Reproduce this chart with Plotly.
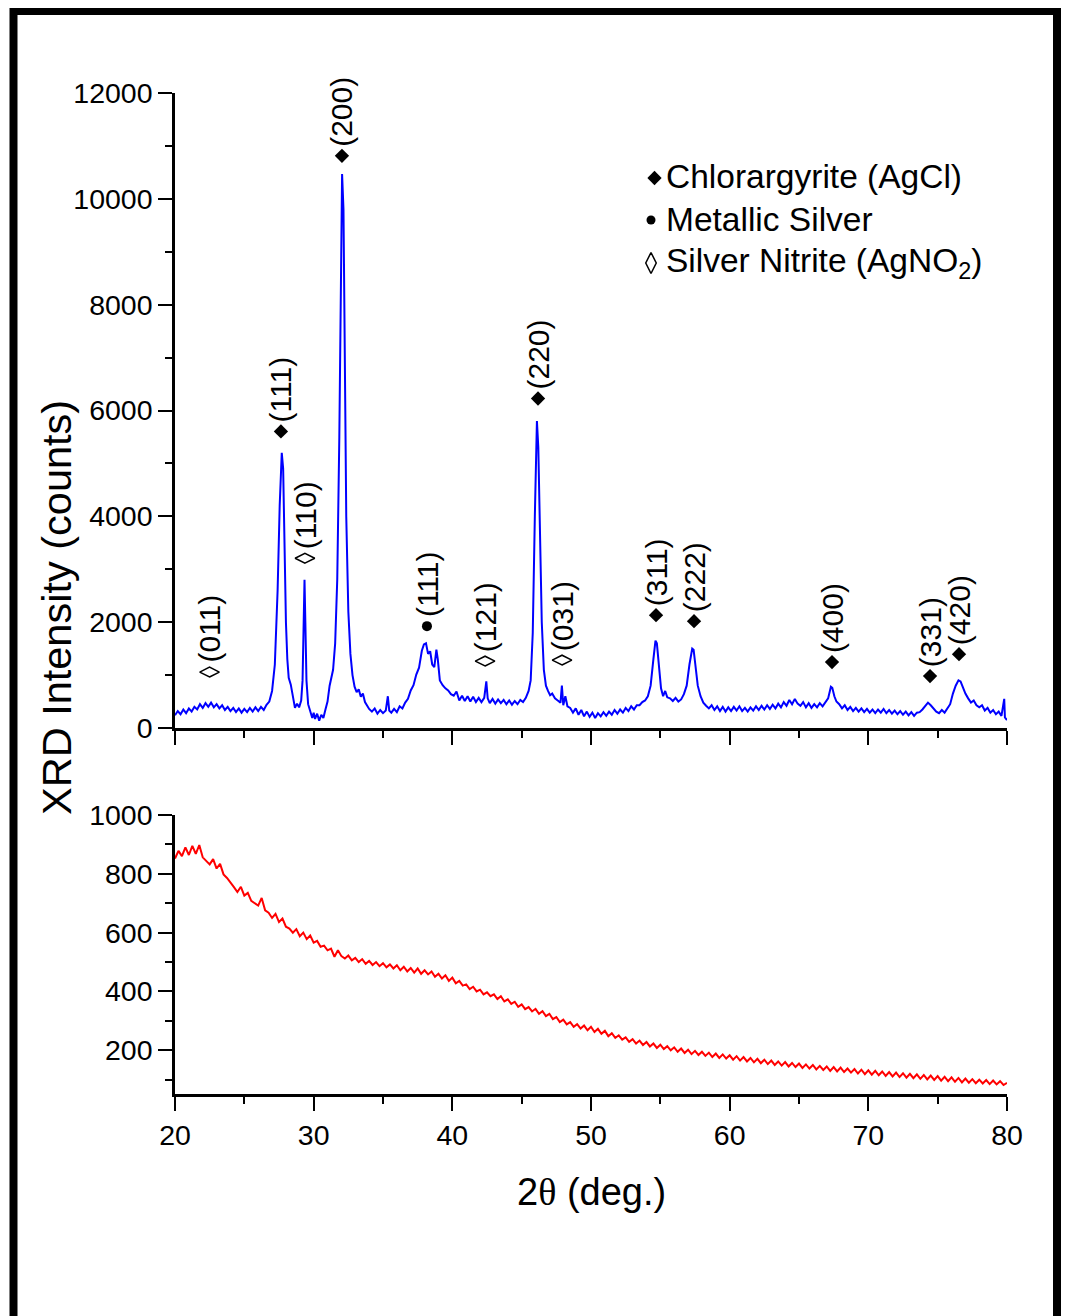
import numpy as np
import plotly.graph_objects as go

# ---------------- data ----------------
# As-prepared sample (blue): (2theta, counts)
blue_pattern = [
    (20.0, 240), (20.2, 320), (20.4, 260), (20.6, 350), (20.8, 280), (21.0, 370), (21.2, 310),
    (21.4, 400), (21.6, 350), (21.8, 450), (22.0, 380), (22.2, 470), (22.4, 400), (22.6, 480),
    (22.8, 390), (23.0, 450), (23.2, 370), (23.4, 430), (23.6, 340), (23.8, 400), (24.0, 320),
    (24.2, 380), (24.4, 300), (24.6, 370), (24.8, 290), (25.0, 360), (25.2, 300), (25.4, 380),
    (25.6, 310), (25.8, 390), (26.0, 320), (26.2, 400), (26.4, 340), (26.6, 440), (26.8, 500),
    (27.0, 700), (27.2, 1200), (27.4, 2600), (27.55, 4200), (27.7, 5200), (27.8, 4900),
    (27.9, 3400), (28.0, 2000), (28.1, 1300), (28.2, 950), (28.35, 820), (28.5, 600),
    (28.65, 380), (28.8, 460), (28.95, 390), (29.1, 520), (29.2, 900), (29.28, 2000),
    (29.34, 2800), (29.4, 2000), (29.48, 900), (29.6, 450), (29.75, 300), (29.9, 190),
    (30.0, 290), (30.1, 170), (30.25, 270), (30.4, 140), (30.55, 250), (30.7, 190),
    (30.85, 350), (31.0, 500), (31.15, 800), (31.25, 950), (31.4, 1100), (31.55, 1600),
    (31.7, 2800), (31.85, 5500), (31.95, 8500), (32.05, 10470), (32.15, 9800), (32.25, 7000),
    (32.35, 4000), (32.5, 2200), (32.65, 1400), (32.8, 1000), (32.95, 780), (33.1, 680),
    (33.25, 730), (33.4, 590), (33.55, 650), (33.7, 490), (33.85, 430), (34.0, 360),
    (34.2, 310), (34.4, 370), (34.6, 270), (34.8, 340), (35.0, 280), (35.2, 330),
    (35.35, 600), (35.45, 330), (35.6, 290), (35.8, 360), (36.0, 300), (36.2, 410),
    (36.4, 370), (36.6, 480), (36.8, 550), (37.0, 710), (37.2, 810), (37.4, 1010),
    (37.6, 1140), (37.8, 1460), (37.95, 1580), (38.1, 1600), (38.25, 1400), (38.4, 1450),
    (38.55, 1200), (38.7, 1150), (38.85, 1480), (38.95, 1300), (39.1, 900), (39.3, 810),
    (39.5, 750), (39.7, 710), (39.9, 640), (40.1, 610), (40.3, 690), (40.5, 520),
    (40.7, 610), (40.9, 510), (41.1, 600), (41.3, 500), (41.5, 590), (41.7, 490),
    (41.9, 570), (42.1, 490), (42.3, 570), (42.45, 880), (42.55, 560), (42.7, 470),
    (42.9, 550), (43.1, 460), (43.3, 540), (43.5, 470), (43.7, 530), (43.9, 450),
    (44.1, 520), (44.3, 440), (44.5, 510), (44.7, 450), (44.9, 530), (45.1, 490),
    (45.3, 570), (45.5, 700), (45.65, 900), (45.8, 1800), (45.95, 4000), (46.1, 5800),
    (46.2, 5300), (46.3, 3800), (46.45, 2000), (46.6, 1100), (46.75, 800), (46.9, 700),
    (47.05, 620), (47.2, 650), (47.4, 560), (47.6, 520), (47.8, 480), (47.9, 800),
    (48.0, 430), (48.15, 600), (48.3, 410), (48.5, 380), (48.7, 290), (48.9, 370),
    (49.1, 250), (49.3, 340), (49.5, 220), (49.7, 310), (49.9, 210), (50.1, 290),
    (50.3, 190), (50.5, 280), (50.7, 220), (50.9, 300), (51.1, 230), (51.3, 310),
    (51.5, 250), (51.7, 340), (51.9, 270), (52.1, 350), (52.3, 290), (52.5, 380),
    (52.7, 320), (52.9, 410), (53.1, 350), (53.3, 430), (53.5, 430), (53.7, 490),
    (53.9, 520), (54.1, 600), (54.3, 800), (54.5, 1300), (54.65, 1650), (54.75, 1600),
    (54.9, 1100), (55.05, 750), (55.2, 600), (55.35, 700), (55.5, 580), (55.7, 560),
    (55.9, 510), (56.1, 570), (56.3, 500), (56.5, 540), (56.7, 640), (56.9, 800),
    (57.1, 1200), (57.3, 1500), (57.4, 1480), (57.55, 1100), (57.7, 800), (57.9, 600),
    (58.1, 480), (58.3, 420), (58.5, 370), (58.7, 430), (58.9, 340), (59.1, 410),
    (59.3, 320), (59.5, 400), (59.7, 310), (59.9, 390), (60.1, 320), (60.3, 400),
    (60.5, 330), (60.7, 410), (60.9, 320), (61.1, 380), (61.3, 310), (61.5, 390),
    (61.7, 330), (61.9, 410), (62.1, 340), (62.3, 420), (62.5, 350), (62.7, 430),
    (62.9, 360), (63.1, 440), (63.3, 370), (63.5, 460), (63.7, 390), (63.9, 490),
    (64.1, 420), (64.3, 530), (64.5, 450), (64.7, 550), (64.9, 460), (65.1, 420),
    (65.3, 490), (65.5, 390), (65.7, 470), (65.9, 380), (66.1, 450), (66.3, 390),
    (66.5, 470), (66.7, 410), (66.9, 490), (67.1, 560), (67.3, 780), (67.4, 760),
    (67.55, 600), (67.7, 500), (67.9, 450), (68.1, 370), (68.3, 430), (68.5, 340),
    (68.7, 400), (68.9, 320), (69.1, 380), (69.3, 310), (69.5, 370), (69.7, 300),
    (69.9, 360), (70.1, 290), (70.3, 350), (70.5, 280), (70.7, 350), (70.9, 290),
    (71.1, 360), (71.3, 280), (71.5, 340), (71.7, 270), (71.9, 330), (72.1, 260),
    (72.3, 320), (72.5, 250), (72.7, 310), (72.9, 240), (73.1, 300), (73.3, 230),
    (73.5, 290), (73.7, 300), (73.9, 350), (74.1, 420), (74.3, 480), (74.5, 430),
    (74.7, 360), (74.9, 310), (75.1, 280), (75.3, 340), (75.5, 290), (75.7, 370),
    (75.9, 450), (76.1, 650), (76.3, 800), (76.5, 900), (76.65, 880), (76.8, 780),
    (77.0, 650), (77.2, 560), (77.4, 480), (77.6, 520), (77.8, 430), (78.0, 390),
    (78.2, 430), (78.4, 330), (78.6, 380), (78.8, 290), (79.0, 340), (79.2, 260),
    (79.4, 310), (79.6, 230), (79.8, 550), (79.85, 200), (79.9, 180), (80.0, 150),
]
blue_x = [p[0] for p in blue_pattern]
blue_y = [p[1] for p in blue_pattern]

# Reference sample (red), sampled every 0.25 deg from 20 to 80
red_x = list(np.round(np.linspace(20, 80, 241), 2))
red_y = [
    852, 878, 860, 890, 864, 895, 868, 898,
    856, 845, 832, 850, 818, 834, 798, 786,
    772, 755, 738, 756, 726, 735, 708, 700,
    692, 718, 676, 668, 650, 664, 636, 648,
    620, 614, 600, 612, 588, 600, 578, 590,
    566, 572, 552, 556, 540, 546, 518, 540,
    520, 512, 522, 506, 514, 500, 510, 494,
    504, 490, 500, 486, 496, 482, 492, 478,
    489, 472, 484, 468, 480, 464, 478, 460,
    472, 458, 468, 450, 460, 444, 455, 436,
    447, 428, 436, 420, 424, 408, 416, 400,
    406, 390, 397, 384, 390, 374, 384, 366,
    373, 358, 365, 348, 356, 340, 347, 332,
    341, 324, 333, 316, 324, 306, 313, 296,
    304, 288, 296, 280, 289, 274, 284, 268,
    280, 262, 273, 256, 266, 248, 258, 242,
    251, 236, 244, 229, 238, 223, 233, 218,
    228, 213, 223, 208, 219, 204, 214, 200,
    210, 195, 206, 191, 202, 187, 198, 184,
    195, 181, 192, 177, 189, 174, 186, 172,
    183, 168, 180, 165, 177, 162, 174, 159,
    171, 156, 168, 153, 165, 150, 162, 148,
    160, 145, 157, 143, 155, 140, 152, 138,
    150, 135, 147, 133, 145, 130, 143, 128,
    141, 126, 138, 124, 136, 121, 134, 119,
    132, 117, 130, 115, 128, 113, 126, 111,
    124, 109, 122, 107, 120, 105, 118, 103,
    116, 101, 114, 99, 112, 97, 110, 95,
    108, 93, 106, 91, 104, 90, 102, 88,
    100, 87, 99, 85, 97, 84, 95, 82,
    89,
]

# Peak indexing: position, marker height (counts), label, phase
peak_x = [22.49, 27.64, 29.37, 32.04, 38.17, 42.36, 46.18, 47.91, 54.69, 57.43, 67.38, 74.45, 76.54]
peak_mark_y = [1057, 5604, 3208, 10812, 1925, 1264, 6227, 1283, 2132, 2019, 1245, 981, 1396]
peak_labels = ["(011)", "(111)", "(110)", "(200)", "(111)", "(121)", "(220)", "(031)",
               "(311)", "(222)", "(400)", "(331)", "(420)"]
peak_phase = ["nitrite", "agcl", "nitrite", "agcl", "silver", "nitrite", "agcl", "nitrite",
              "agcl", "agcl", "agcl", "agcl", "agcl"]

legend_labels = ["Chlorargyrite (AgCl)", "Metallic Silver", "Silver Nitrite (AgNO<sub>2</sub>)"]
legend_phase = ["agcl", "silver", "nitrite"]

x_ticks = [20, 30, 40, 50, 60, 70, 80]

# ---------------- layout helpers ----------------
# The page body has an 8 px margin, so the figure is offset by 8 px and every
# layout position below is given in page pixels.
OFF = 8
PAGE_W, PAGE_H = 1069, 1316
W, H = PAGE_W - OFF, PAGE_H - OFF
FONT = "Liberation Sans, Arial, sans-serif"

def fx(px):
    return (px - OFF) / W

def fy(py):
    return 1 - (py - OFF) / H

sym_style = {
    "agcl": dict(symbol="diamond", size=11, color="black", line=dict(width=0)),
    "silver": dict(symbol="circle", size=10, color="black", line=dict(width=0)),
    "nitrite": dict(symbol="diamond-wide-open", size=14, color="black", line=dict(width=1.5, color="black")),
}
legend_sym_style = {
    "agcl": dict(symbol="diamond", size=11, color="black", line=dict(width=0)),
    "silver": dict(symbol="circle", size=9, color="black", line=dict(width=0)),
    "nitrite": dict(symbol="diamond-tall-open", size=15, color="black", line=dict(width=1.5, color="black")),
}

fig = go.Figure()

fig.add_trace(go.Scatter(x=blue_x, y=blue_y, mode="lines", line=dict(color="#0000ff", width=2),
                         xaxis="x", yaxis="y", showlegend=False, hoverinfo="skip"))
fig.add_trace(go.Scatter(x=red_x, y=red_y, mode="lines", line=dict(color="#ff0000", width=2),
                         xaxis="x2", yaxis="y2", showlegend=False, hoverinfo="skip"))

for ph in ["agcl", "silver", "nitrite"]:
    xs = [x for x, p in zip(peak_x, peak_phase) if p == ph]
    ys = [y for y, p in zip(peak_mark_y, peak_phase) if p == ph]
    fig.add_trace(go.Scatter(x=xs, y=ys, mode="markers", marker=sym_style[ph],
                             xaxis="x", yaxis="y", showlegend=False, hoverinfo="skip",
                             cliponaxis=False))

annotations = []
for x, y, lab in zip(peak_x, peak_mark_y, peak_labels):
    annotations.append(dict(x=x, y=y, xref="x", yref="y", text=lab, textangle=-90,
                            showarrow=False, xanchor="center", yanchor="bottom", yshift=7,
                            font=dict(family=FONT, size=30, color="black")))

# legend block (page-pixel positions on a hidden full-page overlay axis pair)
legend_px = [(654.5, 178), (651, 220), (651, 263)]
legend_text_y = [176.5, 219, 262.5]
for (lx, ly), ph in zip(legend_px, legend_phase):
    fig.add_trace(go.Scatter(x=[lx], y=[ly], mode="markers", marker=legend_sym_style[ph],
                             xaxis="x3", yaxis="y3", showlegend=False, hoverinfo="skip",
                             cliponaxis=False))
for lab, ty in zip(legend_labels, legend_text_y):
    annotations.append(dict(x=664, y=ty, xref="x3", yref="y3", text=lab,
                            showarrow=False, xanchor="left", yanchor="middle",
                            font=dict(family=FONT, size=33.5, color="black")))

# axis titles
annotations.append(dict(x=56, y=608, xref="x3", yref="y3",
                        text="XRD Intensity (counts)", textangle=-90, showarrow=False,
                        xanchor="center", yanchor="middle",
                        font=dict(family=FONT, size=41.5, color="black")))
annotations.append(dict(x=591, y=1192, xref="x3", yref="y3",
                        text="2<span style='font-family:Liberation Serif'>θ</span> (deg.)",
                        showarrow=False, xanchor="center", yanchor="middle",
                        font=dict(family=FONT, size=38, color="black")))

xdom = [fx(175), fx(1007)]
top_dom = [fy(728), fy(93)]
bot_dom = [fy(1094.4), fy(815)]

axis_common = dict(showline=True, linecolor="black", linewidth=2.5, ticks="outside",
                   ticklen=14, tickwidth=2, tickcolor="black", showgrid=False, zeroline=False,
                   automargin=False, tickformat="d",
                   tickfont=dict(family=FONT, size=28.5, color="black"))
minor_x = dict(ticks="outside", ticklen=7, tickwidth=2, tickcolor="black", dtick=5, tick0=20,
               showgrid=False)

fig.update_layout(
    width=W, height=H, margin=dict(l=0, r=0, t=0, b=0, autoexpand=False),
    paper_bgcolor="white", plot_bgcolor="rgba(0,0,0,0)", showlegend=False,
    xaxis=dict(domain=xdom, range=[20, 80], tickvals=x_ticks, showticklabels=False,
               anchor="y", minor=minor_x, **axis_common),
    yaxis=dict(domain=top_dom, range=[0, 12000], dtick=2000, tick0=0, anchor="x",
               minor=dict(ticks="outside", ticklen=7, tickwidth=2, tickcolor="black",
                          dtick=1000, tick0=0, showgrid=False), **axis_common),
    xaxis2=dict(domain=xdom, range=[20, 80], tickvals=x_ticks, anchor="y2", minor=minor_x,
                **axis_common),
    yaxis2=dict(domain=bot_dom, range=[50, 1000], dtick=200, tick0=0, anchor="x2",
                minor=dict(ticks="outside", ticklen=7, tickwidth=2, tickcolor="black",
                           dtick=100, tick0=0, showgrid=False), **axis_common),
    xaxis3=dict(domain=[0, 1], range=[OFF, OFF + W], visible=False, anchor="y3",
                fixedrange=True, automargin=False),
    yaxis3=dict(domain=[0, 1], range=[OFF + H, OFF], visible=False, anchor="x3",
                fixedrange=True, automargin=False),
    annotations=annotations,
    shapes=[dict(type="rect", xref="x3", yref="y3", x0=13.5, x1=1057,
                 y0=11, y1=PAGE_H + 20, line=dict(color="black", width=8))],
)

fig.write_html("out.html")
